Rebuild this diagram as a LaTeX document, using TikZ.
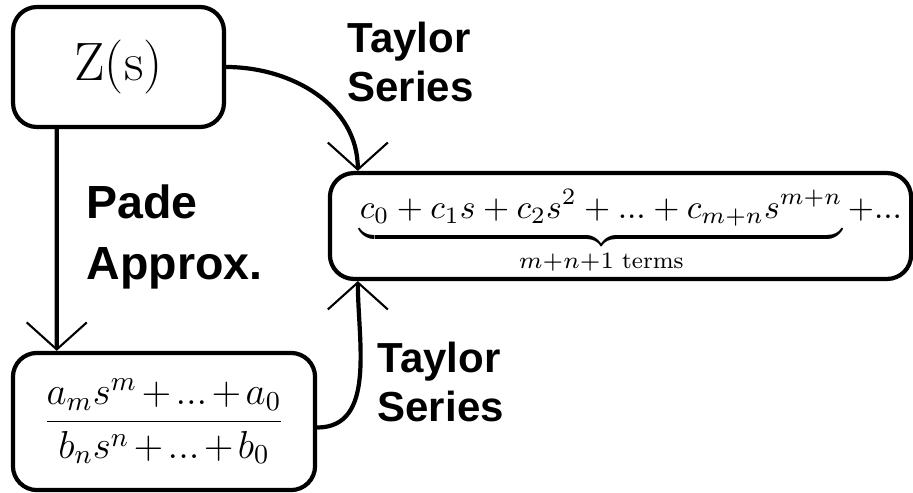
\RequirePackage{fix-cm}
\documentclass[tikz,border=0pt]{standalone}
\usepackage{amsmath}
\usepackage{amssymb}
\usepackage{fontspec}
\newfontfamily\labelfont{Liberation Sans}
\usetikzlibrary{arrows.meta,positioning}
\tikzstyle{arrow} = [line width=1.4pt,-{Straight Barb[length=9pt,width=20pt,line width=0.7pt]}]
\tikzstyle{mathbox} = [rectangle, rounded corners=8pt, draw, line width=1.4pt, inner sep=0pt, text centered]
\tikzstyle{method} = [align=left, inner sep=0pt, anchor=north west, font=\labelfont\bfseries\fontsize{14}{16.5}\selectfont]

\begin{document}
\begin{tikzpicture}[x=0.3333pt, y=0.3333pt]
\useasboundingbox (0,0) rectangle (913,-492);
% Nodes
\node (zs) [mathbox, minimum width=70.3pt, minimum height=40pt] at (118.5,-67) {\fontsize{18}{20}\selectfont Z(s)};
\node (series) [mathbox, minimum width=193.7pt, minimum height=35.3pt] at (620.5,-226)
  {\fontsize{11.2}{13}\selectfont\hspace*{7pt}\raisebox{-2pt}[\height][\depth]{$\underbrace{c_0+c_1s+c_2s^2+...+c_{m+n}s^{m+n}}_{m+n+1\text{ terms}}+...$}};
\node (ratio) [mathbox, minimum width=100.7pt, minimum height=45.7pt] at (164,-421.5)
  {\fontsize{13}{15}\selectfont $\dfrac{a_m s^m\mskip-2mu+\mskip-2mu...\mskip-2mu+\mskip-2mu a_0}{b_n s^n\mskip-2mu+\mskip-2mu...\mskip-2mu+\mskip-2mu b_0}$};

% Labels
\node (taylorup) [method] at (347,-21) {Taylor\\Series};
\node (pade) [method, font=\labelfont\bfseries\fontsize{15.5}{20.3}\selectfont] at (86,-184) {Pade\\Approx.};
\node (taylordown) [method] at (377,-341) {Taylor\\Series};

% Arrows
\draw[arrow] ([xshift=15.3pt]zs.south west) -- ([xshift=15.3pt]ratio.north west);
\draw[arrow] (zs.east) to[out=0,in=90] ([xshift=10pt]series.north west);
\draw[arrow] ([yshift=-2pt]ratio.east) to[out=0,in=-90] ([xshift=10pt]series.south west);
\end{tikzpicture}
\end{document}
